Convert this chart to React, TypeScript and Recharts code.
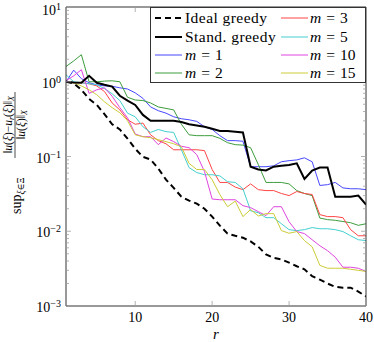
import React from 'react';
import { LineChart, Line, XAxis, YAxis, Legend } from 'recharts';

const FONT = "'Liberation Serif', 'DejaVu Serif', serif";

const R = [1, 2, 3, 4, 5, 6, 7, 8, 9, 10, 11, 12, 13, 14, 15, 16, 17, 18, 19, 20,
  21, 22, 23, 24, 25, 26, 27, 28, 29, 30, 31, 32, 33, 34, 35, 36, 37, 38, 39, 40];

const IDEAL = [1, 0.955, 0.78, 0.59, 0.49, 0.37, 0.27, 0.23, 0.173, 0.127, 0.099, 0.091, 0.069, 0.049, 0.038,
  0.029, 0.0257, 0.0234, 0.02, 0.0157, 0.0119, 0.0093, 0.0087, 0.0082, 0.0073, 0.0062, 0.0049, 0.0044, 0.0042,
  0.0038, 0.0034, 0.0031, 0.0025, 0.00225, 0.002, 0.0018, 0.00176, 0.00176, 0.00156, 0.00134];

const STAND = [1, 0.98, 0.97, 1.2, 0.97, 0.91, 0.86, 0.65, 0.56, 0.49, 0.36, 0.3, 0.3, 0.3, 0.3, 0.29, 0.27,
  0.26, 0.25, 0.235, 0.22, 0.22, 0.215, 0.21, 0.073, 0.067, 0.065, 0.073, 0.075, 0.077, 0.081, 0.05, 0.065,
  0.071, 0.071, 0.029, 0.029, 0.029, 0.03, 0.0227];

const M1 = [1, 1.43, 1.1, 0.97, 0.91, 0.88, 0.87, 0.83, 0.8, 0.71, 0.6, 0.46, 0.41, 0.38, 0.34, 0.32, 0.31,
  0.295, 0.25, 0.23, 0.19, 0.163, 0.163, 0.16, 0.073, 0.073, 0.073, 0.075, 0.085, 0.088, 0.09, 0.096, 0.085,
  0.041, 0.042, 0.045, 0.038, 0.037, 0.037, 0.036];

const M2 = [1.6, 1.9, 2.3, 1.0, 1.0, 1.02, 1.03, 1.0, 0.62, 0.57, 0.56, 0.52, 0.46, 0.44, 0.42, 0.27, 0.195,
  0.19, 0.19, 0.19, 0.175, 0.153, 0.144, 0.142, 0.131, 0.078, 0.045, 0.045, 0.045, 0.043, 0.035, 0.032, 0.03,
  0.015, 0.0143, 0.014, 0.0135, 0.013, 0.012, 0.0126];

const M3 = [1, 0.97, 0.97, 0.94, 0.88, 0.74, 0.52, 0.42, 0.31, 0.27, 0.28, 0.195, 0.163, 0.148, 0.123, 0.123,
  0.123, 0.123, 0.12, 0.067, 0.045, 0.045, 0.039, 0.036, 0.043, 0.036, 0.035, 0.035, 0.032, 0.03, 0.034, 0.032,
  0.031, 0.0167, 0.0157, 0.0157, 0.0152, 0.0105, 0.0087, 0.0087];

const M5 = [1.24, 1.0, 0.97, 0.94, 0.91, 0.81, 0.69, 0.56, 0.38, 0.34, 0.25, 0.21, 0.23, 0.215, 0.21, 0.123,
  0.071, 0.061, 0.057, 0.057, 0.055, 0.046, 0.045, 0.037, 0.0188, 0.0177, 0.0152, 0.0152, 0.0126, 0.0105,
  0.0102, 0.0105, 0.0112, 0.0108, 0.0108, 0.0105, 0.0099, 0.0087, 0.0077, 0.0075];

const M10 = [1.03, 1.2, 1.45, 0.7, 0.78, 0.83, 0.64, 0.45, 0.33, 0.2, 0.184, 0.184, 0.144, 0.177, 0.158, 0.137,
  0.131, 0.106, 0.063, 0.027, 0.0264, 0.0264, 0.0264, 0.022, 0.0207, 0.0183, 0.0162, 0.0213, 0.0213, 0.0134,
  0.0099, 0.0093, 0.0077, 0.0064, 0.0055, 0.0045, 0.0033, 0.0033, 0.0032, 0.0029];

const M15 = [1, 0.97, 0.88, 0.78, 0.67, 0.54, 0.45, 0.385, 0.3, 0.195, 0.184, 0.178, 0.168, 0.158, 0.148, 0.135,
  0.081, 0.067, 0.067, 0.049, 0.031, 0.0213, 0.0253, 0.0157, 0.0195, 0.016, 0.0172, 0.0172, 0.0102, 0.0094,
  0.0099, 0.0075, 0.0062, 0.0035, 0.0032, 0.0032, 0.0032, 0.0031, 0.003, 0.0029];

const X_TICKS = [10, 20, 30, 40];
const Y_MAJOR = [0.001, 0.01, 0.1, 1, 10];
const Y_EXP = ['\u22123', '\u22122', '\u22121', '0', '1'];
const Y_MINOR_MULT = [2, 3, 4, 5, 6, 7, 8, 9];
const Y_TICKS = [
  ...Y_MAJOR,
  ...Y_MAJOR.slice(0, 4).flatMap((d) => Y_MINOR_MULT.map((k) => +(k * d).toPrecision(3))),
].sort((a, b) => a - b);

type S = { key: string; label: string; math?: boolean; color: string; width: number; dash?: string; values: number[] };

const SERIES: S[] = [
  { key: 'm1', label: '1', math: true, color: '#4747ff', width: 1, values: M1 },
  { key: 'm2', label: '2', math: true, color: '#3d9d3d', width: 1, values: M2 },
  { key: 'm3', label: '3', math: true, color: '#ff4545', width: 1, values: M3 },
  { key: 'm5', label: '5', math: true, color: '#45cfcf', width: 1, values: M5 },
  { key: 'm10', label: '10', math: true, color: '#df45df', width: 1, values: M10 },
  { key: 'm15', label: '15', math: true, color: '#cccc38', width: 1, values: M15 },
  { key: 'stand', label: 'Stand. greedy', color: '#000', width: 2, values: STAND },
  { key: 'ideal', label: 'Ideal greedy', color: '#000', width: 2, dash: '6 4', values: IDEAL },
];

const LEGEND_ORDER = ['ideal', 'stand', 'm1', 'm2', 'm3', 'm5', 'm10', 'm15'];

const rows = R.map((r, i) => {
  const row: Record<string, number> = { r };
  SERIES.forEach((s) => { row[s.key] = s.values[i]; });
  return row;
});

const majorIndex = (v: number) => Y_MAJOR.findIndex((m) => Math.abs(v / m - 1) < 1e-6);
const TICK_COLOR = '#a0a0a0';

const LeftTick = (p: any) => {
  const idx = majorIndex(p.payload.value);
  const major = idx >= 0;
  const shift = idx === Y_MAJOR.length - 1 ? 2 : 0;
  return (
    <g>
      <line x1={p.x} x2={p.x + (major ? 5 : 3)} y1={p.y} y2={p.y} stroke={TICK_COLOR} strokeWidth={0.8} />
      {major && (
        <text x={p.x - 5} y={p.y + 6 + shift} textAnchor="end" fontFamily={FONT} fontSize={14} fill="#000">
          10<tspan fontSize={10} dy={-5}>{Y_EXP[idx]}</tspan>
        </text>
      )}
    </g>
  );
};

const RightTick = (p: any) => {
  const major = majorIndex(p.payload.value) >= 0;
  return <line x1={p.x} x2={p.x - (major ? 5 : 3)} y1={p.y} y2={p.y} stroke={TICK_COLOR} strokeWidth={0.8} />;
};

const BottomTick = (p: any) => (
  <g>
    <line x1={p.x} x2={p.x} y1={p.y} y2={p.y - 5} stroke={TICK_COLOR} strokeWidth={0.8} />
    <text x={p.x} y={p.y + 16} textAnchor="middle" fontFamily={FONT} fontSize={14} fill="#000">{p.payload.value}</text>
  </g>
);

const TopTick = (p: any) => (
  <line x1={p.x} x2={p.x} y1={p.y} y2={p.y + 5} stroke={TICK_COLOR} strokeWidth={0.8} />
);

const YLabel = () => (
  <g transform="translate(16,153) rotate(-90)" fontFamily={FONT} fill="#000">
    <text x={-61} y={5} fontSize={14}>
      sup<tspan fontSize={9.5} dy={3} fontStyle="italic">ξ</tspan><tspan fontSize={9.5}>∈Ξ</tspan>
    </text>
    <text x={28} y={-4} fontSize={11.5} textAnchor="middle">
      ‖<tspan fontStyle="italic">u</tspan>(<tspan fontStyle="italic">ξ</tspan>)−<tspan fontStyle="italic">u</tspan>
      <tspan fontSize={8} dy={2} fontStyle="italic">r</tspan>
      <tspan dy={-2}>(</tspan><tspan fontStyle="italic">ξ</tspan>)‖<tspan fontSize={8} dy={2} fontStyle="italic">X</tspan>
    </text>
    <line x1={-5} x2={61} y1={-1} y2={-1} stroke="#000" strokeWidth={0.7} />
    <text x={28} y={9} fontSize={11.5} textAnchor="middle">
      ‖<tspan fontStyle="italic">u</tspan>(<tspan fontStyle="italic">ξ</tspan>)‖<tspan fontSize={8} dy={2} fontStyle="italic">X</tspan>
    </text>
  </g>
);

const LegendBox = () => {
  const cols = [{ lx: 5, tx: 35 }, { lx: 131, tx: 160 }];
  const rowsY = [11, 30, 48, 66];
  return (
    <svg width={216} height={76} style={{ display: 'block' }}>
      <rect x={0.5} y={0.5} width={215} height={75} fill="#fff" stroke="#333" strokeWidth={1} />
      {LEGEND_ORDER.map((k, i) => {
        const s = SERIES.find((q) => q.key === k)!;
        const c = cols[Math.floor(i / 4)];
        const y = rowsY[i % 4];
        return (
          <g key={k}>
            <line x1={c.lx} x2={c.lx + 27} y1={y} y2={y} stroke={s.color} strokeWidth={s.width} strokeDasharray={s.dash} />
            {s.math ? (
              <text x={c.tx} y={y + 5} fontFamily={FONT} fontSize={15.5} fill="#000">
                <tspan fontStyle="italic">m</tspan><tspan dx={5}>=</tspan><tspan dx={5}>{s.label}</tspan>
              </text>
            ) : (
              <text x={c.tx} y={y + 5} fontFamily={FONT} fontSize={15.5} letterSpacing={0.45} fill="#000">{s.label}</text>
            )}
          </g>
        );
      })}
    </svg>
  );
};

export default function App() {
  return (
    <div style={{ position: 'absolute', left: 0, top: 0, width: 374, height: 342, background: '#fff' }}>
      <LineChart width={374} height={342} data={rows} margin={{ top: 0, right: 0, bottom: 0, left: 0 }}>
        <XAxis xAxisId="b" dataKey="r" type="number" domain={[1, 40]} ticks={X_TICKS} interval={0} height={36}
          tickSize={0} tickMargin={0} tickLine={false} tick={BottomTick} axisLine={{ stroke: '#333' }} allowDataOverflow
          label={{ value: 'r', position: 'insideBottom', offset: 3, fontFamily: FONT, fontSize: 15, fontStyle: 'italic', fill: '#000' }} />
        <XAxis xAxisId="t" orientation="top" dataKey="r" type="number" domain={[1, 40]} ticks={X_TICKS} interval={0}
          height={7} tickSize={0} tickMargin={0} tickLine={false} tick={TopTick} axisLine={{ stroke: '#333' }} allowDataOverflow />
        <YAxis yAxisId="l" scale="log" type="number" domain={[0.001, 10]} ticks={Y_TICKS} interval={0} width={66}
          tickSize={0} tickMargin={0} tickLine={false} tick={LeftTick} axisLine={{ stroke: '#333' }} allowDataOverflow
          label={<YLabel />} />
        <YAxis yAxisId="r" orientation="right" scale="log" type="number" domain={[0.001, 10]} ticks={Y_TICKS} interval={0}
          width={8} tickSize={0} tickMargin={0} tickLine={false} tick={RightTick} axisLine={{ stroke: '#333' }} allowDataOverflow />
        {SERIES.map((s) => (
          <Line key={s.key} xAxisId="b" yAxisId="l" type="linear" dataKey={s.key} stroke={s.color} strokeWidth={s.width}
            strokeDasharray={s.dash} dot={false} activeDot={false} isAnimationActive={false} />
        ))}
        <Legend layout="horizontal" verticalAlign="middle" align="center"
          wrapperStyle={{ position: 'absolute', left: 150, top: 7, width: 216, height: 76, margin: 0, padding: 0 }}
          content={() => <LegendBox />} />
      </LineChart>
    </div>
  );
}
